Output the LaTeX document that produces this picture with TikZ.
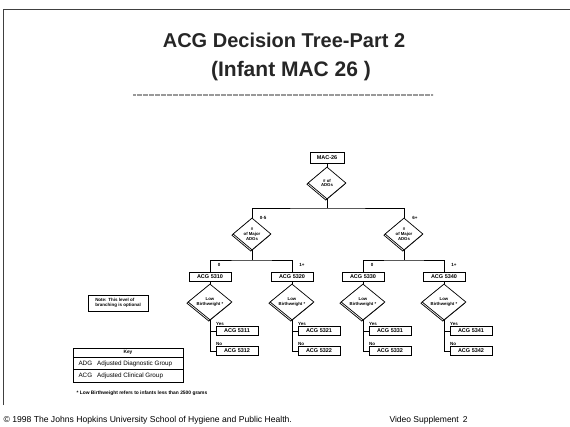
\documentclass[tikz,border=0pt]{standalone}
\usepackage{fontspec}
\setmainfont{Liberation Sans}
\usetikzlibrary{shapes.geometric,shadows}

\begin{document}
\begin{tikzpicture}[x=1pt,y=-1pt,
  acgbox/.style={draw,fill=white,line width=0.7pt,minimum width=42pt,minimum height=9pt,inner sep=0pt,
    font=\fontsize{5.5}{6}\selectfont\bfseries,
    drop shadow={shadow xshift=0.7pt,shadow yshift=-0.7pt,opacity=1,fill=black}},
  decision/.style={diamond,draw,fill=white,line width=0.7pt,aspect=1.2,inner sep=0pt,align=center,
    minimum width=38pt,minimum height=32pt,font=\fontsize{4.3}{4.9}\selectfont\bfseries,
    drop shadow={shadow xshift=-1.2pt,shadow yshift=-1.2pt,opacity=1,fill=white,draw=black}},
  lowbw/.style={decision,minimum width=44pt,minimum height=36pt},
  branchlbl/.style={font=\fontsize{4.5}{5}\selectfont\bfseries,inner sep=0pt},
  link/.style={line width=0.8pt}]
  %%%%% START %%%%%

  \useasboundingbox (0,0) rectangle (570,427);

  \draw[line width=0.8pt,black!75] (3,405) -- (3,9) -- (570,9);

  \node[font=\fontsize{20}{22}\selectfont\bfseries,text=black!85] (title1) at (284,40) {ACG Decision Tree-Part 2};
  \node[font=\fontsize{21}{23}\selectfont\bfseries,text=black!85] (title2) at (291,71) {(Infant MAC 26 )};
  \draw[black!40,line width=2pt,dash pattern=on 0.7pt off 0.5pt] (133,95) -- (433,95);

  % top of the tree
  \node[acgbox,minimum width=34pt,minimum height=11pt] (mac) at (327,157.5) {MAC-26};
  \node[decision] (adgs) at (327,183) {\# of\\ADGs};
  \draw[link] (mac) -- (adgs);

  \node[decision] (majorA) at (252,234) {\#\\of Major\\ADGs};
  \node[decision] (majorB) at (404,234) {\#\\of Major\\ADGs};
  \coordinate (jtop) at (327,208);
  \draw[link] (adgs.south) -- (jtop);
  \draw[link] (majorA.north) |- (jtop) -| (majorB.north);
  \node[branchlbl] (lbl05) at (263,218) {0-5};
  \node[branchlbl] (lbl6) at (415,218) {6+};

  % second level
  \node[acgbox] (acgA) at (210,277) {ACG 5310};
  \node[acgbox] (acgB) at (292,277) {ACG 5320};
  \node[acgbox] (acgC) at (363,277) {ACG 5330};
  \node[acgbox] (acgD) at (444,277) {ACG 5340};

  \coordinate (jA) at (252,260);
  \coordinate (jB) at (404,260);
  \draw[link] (majorA.south) -- (jA);
  \draw[link] (acgA.north) |- (jA) -| (acgB.north);
  \draw[link] (majorB.south) -- (jB);
  \draw[link] (acgC.north) |- (jB) -| (acgD.north);

  \node[branchlbl] (lblA) at (219,265) {0};
  \node[branchlbl] (lblB) at (302,265) {1+};
  \node[branchlbl] (lblC) at (372,265) {0};
  \node[branchlbl] (lblD) at (454,265) {1+};

  % birthweight split
  \node[lowbw] (lowA) at (210,302) {Low\\Birthweight *};
  \node[lowbw] (lowB) at (292,302) {Low\\Birthweight *};
  \node[lowbw] (lowC) at (363,302) {Low\\Birthweight *};
  \node[lowbw] (lowD) at (444,302) {Low\\Birthweight *};
  \draw[link] (acgA) -- (lowA);
  \draw[link] (acgB) -- (lowB);
  \draw[link] (acgC) -- (lowC);
  \draw[link] (acgD) -- (lowD);

  \node[acgbox] (yesA) at (237,331) {ACG 5311};
  \node[acgbox] (noA) at (237,351) {ACG 5312};
  \node[acgbox] (yesB) at (319,331) {ACG 5321};
  \node[acgbox] (noB) at (319,351) {ACG 5322};
  \node[acgbox] (yesC) at (390,331) {ACG 5331};
  \node[acgbox] (noC) at (390,351) {ACG 5332};
  \node[acgbox] (yesD) at (471,331) {ACG 5341};
  \node[acgbox] (noD) at (471,351) {ACG 5342};

  \draw[link] (lowA.south) |- (noA.west);
  \draw[link] (lowA.south |- yesA.west) -- (yesA.west);
  \draw[link] (lowB.south) |- (noB.west);
  \draw[link] (lowB.south |- yesB.west) -- (yesB.west);
  \draw[link] (lowC.south) |- (noC.west);
  \draw[link] (lowC.south |- yesC.west) -- (yesC.west);
  \draw[link] (lowD.south) |- (noD.west);
  \draw[link] (lowD.south |- yesD.west) -- (yesD.west);

  \node[branchlbl] (ylA) at (220,324) {Yes};
  \node[branchlbl] (nlA) at (219,344) {No};
  \node[branchlbl] (ylB) at (302,324) {Yes};
  \node[branchlbl] (nlB) at (301,344) {No};
  \node[branchlbl] (ylC) at (373,324) {Yes};
  \node[branchlbl] (nlC) at (372,344) {No};
  \node[branchlbl] (ylD) at (454,324) {Yes};
  \node[branchlbl] (nlD) at (453,344) {No};

  % note, key and footnote
  \node[draw,line width=0.6pt,minimum width=60pt,minimum height=16pt,inner sep=1.5pt,align=left,
    font=\fontsize{4.5}{5}\selectfont\bfseries] (note) at (118,303) {Note: This level of\\branching is optional};

  \draw[line width=0.6pt] (73,348) rectangle (183,382);
  \draw[line width=0.5pt] (73,357) -- (183,357);
  \draw[line width=0.5pt] (73,369.5) -- (183,369.5);
  \node[font=\fontsize{4.8}{5}\selectfont\bfseries] (keyhd) at (128,352.5) {Key};
  \node[anchor=west,font=\fontsize{6.3}{7}\selectfont] (keyadg) at (75,363.5) {ADG\hspace{5pt}Adjusted Diagnostic Group};
  \node[anchor=west,font=\fontsize{6.3}{7}\selectfont] (keyacg) at (75,376) {ACG\hspace{5pt}Adjusted Clinical Group};

  \node[anchor=west,font=\fontsize{4.9}{5.5}\selectfont\bfseries] (foot) at (73,393) {* Low Birthweight refers to infants less than 2500 grams};

  \node[anchor=west,font=\fontsize{8.6}{10}\selectfont] (copy) at (0,420) {\textcopyright{} 1998 The Johns Hopkins University School of Hygiene and Public Health.};
  \node[anchor=west,font=\fontsize{8.5}{10}\selectfont] (video) at (386,420) {Video Supplement\hspace{4pt}2};

  %%%%% END %%%%%
\end{tikzpicture}
\end{document}
